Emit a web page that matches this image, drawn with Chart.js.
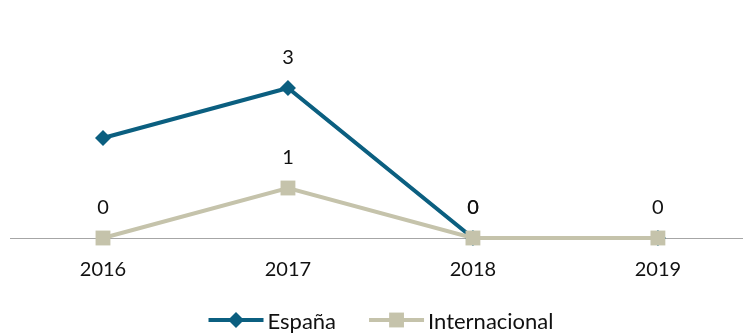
<!DOCTYPE html>
<html>
<head>
<meta charset="utf-8">
<script src="https://cdn.jsdelivr.net/npm/chart.js@4/dist/chart.umd.min.js"></script>
<style>
  html, body { margin: 0; padding: 0; background: #fff; overflow: hidden; }
</style>
</head>
<body>
<canvas id="c" width="743" height="335"></canvas>
<script>
// Years on the horizontal axis
const years = ['2016', '2017', '2018', '2019'];
// Counts per year
const espana = [2, 3, 0, 0];
const internacional = [0, 1, 0, 0];
// Value labels that are left off (indices per series)
const espanaHiddenLabels = [0, 3];
const internacionalHiddenLabels = [];

const TEAL = '#0b5f80';
const SAND = '#c5c3ab';
const FONT = 'Lato, "Open Sans", sans-serif';

// Pair each value with its year index for the numeric x axis
const toPoints = arr => arr.map((v, i) => ({ x: i, y: v }));

// Writes each point's value above it
const valueLabels = {
  id: 'valueLabels',
  afterDatasetsDraw(chart) {
    const ctx = chart.ctx;
    ctx.save();
    ctx.font = '20px ' + FONT;
    ctx.fillStyle = '#111';
    ctx.textAlign = 'center';
    ctx.textBaseline = 'middle';
    chart.data.datasets.forEach((ds, i) => {
      const meta = chart.getDatasetMeta(i);
      meta.data.forEach((pt, j) => {
        if ((ds.hiddenLabels || []).includes(j)) return;
        const v = ds.data[j].y;
        if (v === null || v === undefined) return;
        ctx.fillText(String(v), pt.x, pt.y - 30);
      });
    });
    ctx.restore();
  }
};

// Legend with a line segment and marker per series
const lineLegend = {
  id: 'lineLegend',
  afterDraw(chart) {
    const ctx = chart.ctx;
    ctx.save();
    ctx.font = '22px ' + FONT;
    const segW = 55, textGap = 4, itemGap = 33;
    const cy = 320;
    const items = chart.data.datasets.map(ds => ({
      ds, tw: ctx.measureText(ds.label).width
    }));
    let total = 0;
    items.forEach((it, k) => { total += segW + textGap + it.tw + (k ? itemGap : 0); });
    let x = 381 - total / 2;
    items.forEach((it, k) => {
      if (k) x += itemGap;
      const ds = it.ds;
      ctx.strokeStyle = ds.borderColor;
      ctx.lineWidth = ds.borderWidth;
      ctx.beginPath();
      ctx.moveTo(x, cy);
      ctx.lineTo(x + segW, cy);
      ctx.stroke();
      ctx.fillStyle = ds.pointBackgroundColor;
      ctx.beginPath();
      const mx = x + segW / 2;
      if (ds.pointStyle === 'rect') {
        const s = ds.pointRadius * Math.SQRT1_2;
        ctx.rect(mx - s, cy - s, 2 * s, 2 * s);
      } else {
        const r = ds.pointRadius;
        ctx.moveTo(mx, cy - r); ctx.lineTo(mx + r, cy);
        ctx.lineTo(mx, cy + r); ctx.lineTo(mx - r, cy);
        ctx.closePath();
      }
      ctx.fill();
      ctx.fillStyle = '#111';
      ctx.textAlign = 'left';
      ctx.textBaseline = 'middle';
      ctx.fillText(ds.label, x + segW + textGap, cy + 2);
      x += segW + textGap + it.tw;
    });
    ctx.restore();
  }
};

new Chart(document.getElementById('c'), {
  type: 'line',
  data: {
    datasets: [
      {
        label: 'España',
        data: toPoints(espana),
        hiddenLabels: espanaHiddenLabels,
        borderColor: TEAL,
        backgroundColor: TEAL,
        pointBackgroundColor: TEAL,
        pointBorderWidth: 0,
        borderWidth: 4,
        pointStyle: 'rectRot',
        pointRadius: 8,
        pointHoverRadius: 8,
        tension: 0,
        order: 2,
        clip: false
      },
      {
        label: 'Internacional',
        data: toPoints(internacional),
        hiddenLabels: internacionalHiddenLabels,
        borderColor: SAND,
        backgroundColor: SAND,
        pointBackgroundColor: SAND,
        pointBorderWidth: 0,
        borderWidth: 4,
        pointStyle: 'rect',
        pointRadius: 10.5,
        pointHoverRadius: 10.5,
        tension: 0,
        order: 1,
        clip: false
      }
    ]
  },
  options: {
    responsive: false,
    animation: false,
    events: [],
    layout: { autoPadding: false, padding: { left: 10.5, right: 0, top: 38, bottom: 0 } },
    plugins: {
      legend: { display: false },
      tooltip: { enabled: false }
    },
    scales: {
      x: {
        type: 'linear',
        // each year occupies one unit; the last band runs past the right edge
        min: -0.5,
        max: 3.46,
        grid: { display: false, drawTicks: false },
        border: { display: true, color: '#a6a6a6', width: 1 },
        afterBuildTicks(scale) {
          scale.ticks = years.map((_, i) => ({ value: i }));
        },
        ticks: {
          color: '#111',
          font: { family: FONT, size: 20 },
          padding: 20,
          maxRotation: 0,
          autoSkip: false,
          callback: v => years[v]
        },
        afterFit(scale) { scale.height = 97; }
      },
      y: {
        display: false,
        min: 0,
        max: 4
      }
    }
  },
  plugins: [valueLabels, lineLegend]
});
</script>
</body>
</html>
